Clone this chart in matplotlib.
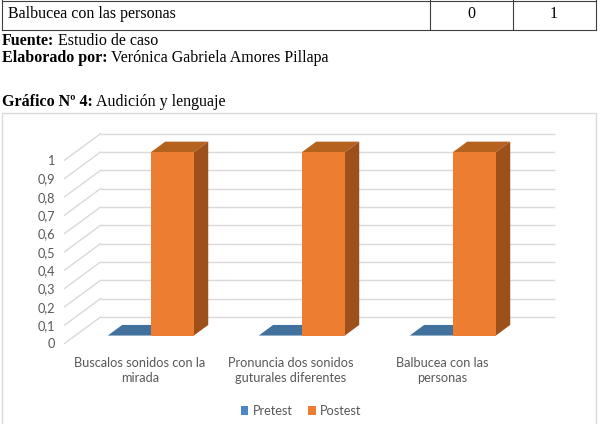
import numpy as np
import matplotlib
matplotlib.use("Agg")
import matplotlib.pyplot as plt
from matplotlib.patches import Polygon, Rectangle, Patch
from matplotlib.lines import Line2D

# ---------------- data ----------------
categories = ["Buscalos sonidos con la\nmirada",
              "Pronuncia dos sonidos\nguturales diferentes",
              "Balbucea con las\npersonas"]
series_names = ["Pretest", "Postest"]
pretest = [0, 0, 0]
postest = [1, 1, 1]
y_ticks = [0, 0.1, 0.2, 0.3, 0.4, 0.5, 0.6, 0.7, 0.8, 0.9, 1.0]
y_tick_labels = ["0", "0,1", "0,2", "0,3", "0,4", "0,5", "0,6", "0,7", "0,8", "0,9", "1"]
table_row_label = "Balbucea con las personas"
table_row_values = ["0", "1"]

# ---------------- figure ----------------
W, H = 602, 424
fig = plt.figure(figsize=(W / 100, H / 100), dpi=100)
fig.patch.set_facecolor("white")


def px(x, y):
    return (x / W, 1 - y / H)


def fline(x0, y0, x1, y1, color="#3f3f3f", lw=0.8):
    a, b = px(x0, y0)
    c, d = px(x1, y1)
    fig.add_artist(Line2D([a, c], [b, d], color=color, lw=lw,
                          transform=fig.transFigure))


# table row
serif = "Liberation Serif"
for y in (0.5, 29.5):
    fline(2, y, 596, y)
for x in (2, 429.5, 512.5, 595.5):
    fline(x, 0, x, 29.5)
fig.text(*px(8, 13.5), table_row_label, family=serif, fontsize=11.5,
         va="center", ha="left")
fig.text(*px(471, 13.5), table_row_values[0], family=serif, fontsize=11.5,
         va="center", ha="center")
fig.text(*px(554, 13.5), table_row_values[1], family=serif, fontsize=11.5,
         va="center", ha="center")

renderer = fig.canvas.get_renderer()


def bold_normal(x, y, bold, normal):
    t = fig.text(*px(x, y), bold, family=serif, fontsize=11.5,
                 fontweight="bold", va="center", ha="left")
    bb = t.get_window_extent(renderer)
    fig.text((bb.x1 + 3.5) / W, 1 - y / H, normal, family=serif,
             fontsize=11.5, va="center", ha="left")


bold_normal(2, 41, "Fuente:", "Estudio de caso")
bold_normal(2, 58, "Elaborado por:", "Verónica Gabriela Amores Pillapa")
bold_normal(2, 102, "Gráfico Nº 4:", "Audición y lenguaje")

# chart frame (bottom edge outside the picture)
fr = Rectangle(px(2, 430), 594 / W, (430 - 113) / H, transform=fig.transFigure,
               fill=False, edgecolor="#d9d9d9", lw=1.0)
fig.add_artist(fr)

# ---------------- 3D-like chart ----------------
sans = ["Lato", "DejaVu Sans"]
gray_txt = "#595959"
grid_c = "#d9d9d9"

ax_left, ax_right = 64.5, 517.5
ax_bottom, ax_top = 343.5, 160.2
ax = fig.add_axes([ax_left / W, (H - ax_bottom) / H,
                   (ax_right - ax_left) / W, (ax_bottom - ax_top) / H])
ax.set_xlim(-0.5, 2.5)
ax.set_ylim(0, 1)
ax.patch.set_visible(False)
for s in ax.spines.values():
    s.set_visible(False)

# depth offset (data units) of the back wall
ddx = 36 / ((ax_right - ax_left) / 3)
ddy = 26.5 / (ax_bottom - ax_top)

for v in y_ticks:
    ax.plot([-0.5 + ddx, 2.5 + ddx], [v + ddy, v + ddy], color=grid_c,
            lw=1.0, clip_on=False, zorder=1)
    ax.plot([-0.5, -0.5 + ddx], [v, v + ddy], color=grid_c,
            lw=1.0, clip_on=False, zorder=1)

bar_w = 0.285
f, b = 0.3, 0.7  # bar depth range (fraction of floor depth)
series_vals = [pretest, postest]
front_cols = ["#4A86C8", "#ED7D31"]
top_cols = ["#41719C", "#B6621F"]
side_cols = ["#345C82", "#9E501B"]

for si, vals in enumerate(series_vals):
    for i, v in enumerate(vals):
        x0 = i - bar_w if si == 0 else i
        x1 = x0 + bar_w
        z = 2 + si
        fx, fy = f * ddx, f * ddy
        bx, by = b * ddx, b * ddy
        # top face
        ax.add_patch(Polygon([(x0 + fx, v + fy), (x1 + fx, v + fy),
                              (x1 + bx, v + by), (x0 + bx, v + by)],
                             closed=True, facecolor=top_cols[si],
                             edgecolor="none", clip_on=False, zorder=z))
        if v > 0:
            # side face
            ax.add_patch(Polygon([(x1 + fx, fy), (x1 + bx, by),
                                  (x1 + bx, v + by), (x1 + fx, v + fy)],
                                 closed=True, facecolor=side_cols[si],
                                 edgecolor="none", clip_on=False, zorder=z))
            # front face
            ax.add_patch(Rectangle((x0 + fx, fy), bar_w, v,
                                   facecolor=front_cols[si], edgecolor="none",
                                   clip_on=False, zorder=z + 0.5))

ax.set_yticks(y_ticks)
ax.set_yticklabels(y_tick_labels)
ax.set_xticks(range(len(categories)))
ax.set_xticklabels(categories, linespacing=1.35)
ax.tick_params(axis="y", length=0, pad=7, labelsize=9.2, labelcolor=gray_txt)
ax.tick_params(axis="x", length=0, pad=9.5, labelsize=9.2, labelcolor=gray_txt)
for lab in ax.get_xticklabels() + ax.get_yticklabels():
    lab.set_family(sans)

handles = [Patch(facecolor=front_cols[0]), Patch(facecolor=front_cols[1])]
fig.legend(handles, series_names, loc="center",
           bbox_to_anchor=px(301, 411), ncol=2, frameon=False,
           handlelength=0.6, handleheight=0.6, handletextpad=0.35,
           columnspacing=1.2, prop={"family": sans, "size": 9.2},
           labelcolor=gray_txt)

fig.savefig("out.png", dpi=100, facecolor="white")
